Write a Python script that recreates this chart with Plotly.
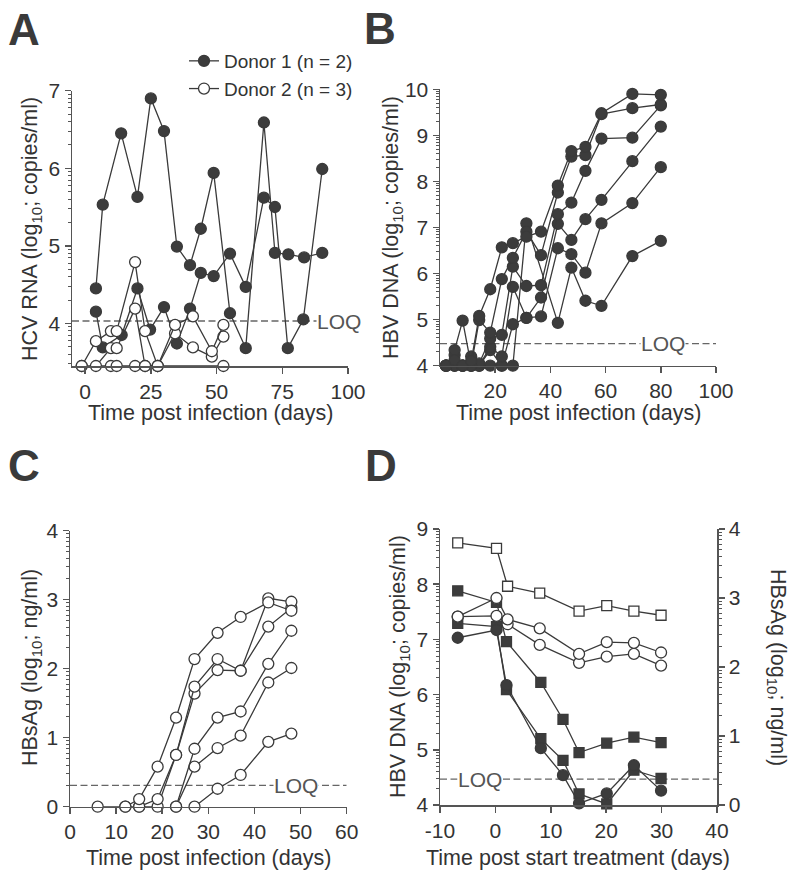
import numpy as np
import plotly.graph_objects as go

# ---------------- data ----------------
# Panel A: HCV RNA (log10 copies/ml) vs days post infection
a_d1_s1_day = [4.1, 6.7, 13.7, 19.9, 25.0, 30.0, 34.9, 39.9, 44.0, 48.9, 55.1, 61.1, 68.0, 72.2, 77.3, 83.3, 90.2]
a_d1_s1_val = [4.45, 5.53, 6.45, 5.63, 6.90, 6.48, 4.99, 4.75, 5.22, 5.94, 4.13, 3.68, 6.59, 4.91, 4.89, 4.85, 4.91]
a_d1_s2_day = [4.1, 6.7, 13.9, 19.9, 24.7, 30.0, 34.9, 39.9, 44.0, 48.9, 55.1, 61.1, 68.0, 72.2, 77.1, 83.0, 90.2]
a_d1_s2_val = [4.15, 3.69, 3.85, 4.45, 3.92, 4.21, 3.74, 4.19, 4.65, 4.61, 4.90, 4.47, 5.62, 5.50, 3.68, 4.05, 5.99]
a_d2_s1_day = [-1.3, 4.1, 9.8, 12.0, 19.0, 22.8, 27.6, 34.2, 41.0, 48.2, 52.6]
a_d2_s1_val = [3.45, 3.77, 3.90, 3.90, 4.79, 3.90, 3.45, 3.98, 4.09, 3.64, 3.98]
a_d2_s2_day = [4.1, 9.8, 12.0, 19.0, 22.8, 27.6, 34.2, 41.0, 48.2, 52.6]
a_d2_s2_val = [3.45, 3.68, 3.68, 4.19, 3.45, 3.45, 3.87, 3.69, 3.57, 3.83]
a_d2_s3_day = [-1.3, 9.8, 12.0, 19.0, 22.8, 27.6, 52.6]
a_d2_s3_val = [3.45, 3.45, 3.45, 3.45, 3.45, 3.45, 3.45]
a_loq = 4.03

# Panel B: HBV DNA (log10 copies/ml)
b_days = [2.2, 5.3, 8.2, 11.3, 14.2, 18.2, 22.4, 26.4, 31.3, 36.6, 42.7, 47.6, 52.7, 58.5, 69.7, 80.0]
b_s1 = [4.0, 4.12, 4.0, 4.10, 5.08, 5.66, 6.57, 6.66, 6.80, 6.91, 7.91, 8.66, 8.75, 9.48, 9.90, 9.88]
b_s2 = [4.0, 4.34, 4.98, 4.0, 4.99, 4.72, 5.88, 6.34, 6.91, 6.40, 7.76, 8.54, 8.57, 9.46, 9.59, 9.67]
b_s3 = [4.0, 4.23, 4.0, 4.20, 4.05, 4.59, 4.67, 6.15, 5.73, 5.75, 7.29, 7.54, 8.23, 8.93, 8.95, 9.65]
b_s4 = [4.0, 4.0, 4.0, 4.0, 4.0, 4.41, 4.20, 5.71, 5.04, 5.48, 7.08, 6.73, 7.18, 7.60, 8.44, 9.19]
b_s5 = [4.0, 4.0, 4.0, 4.0, 4.0, 4.34, 4.0, 4.90, 5.04, 5.07, 6.55, 6.42, 6.02, 7.09, 7.53, 8.31]
b_s6 = [4.0, 4.0, 4.0, 4.0, 4.0, 4.0, 4.0, 4.0, 7.09, None, 4.93, 6.13, 5.41, 5.30, 6.38, 6.71]
b_loq = 4.48

# Panel C: HBsAg (log10 ng/ml)
c_s1_day = [6, 12, 15, 19, 23, 27, 32, 37, 43, 48]
c_s1_val = [0, 0, 0.11, 0.58, 1.29, 2.14, 2.52, 2.75, 2.96, 2.84]
c_s2_day = [12, 15, 19, 23, 27, 32, 37, 43, 48]
c_s2_val = [0, 0, 0.11, 0.75, 1.74, 2.14, 1.97, 3.02, 2.97]
c_s3_day = [15, 19, 23, 27, 32, 37, 43, 48]
c_s3_val = [0, 0, 0.75, 1.64, 1.98, 1.97, 2.61, 2.88]
c_s4_day = [23, 27, 32, 37, 43, 48]
c_s4_val = [0, 0.84, 1.29, 1.38, 2.07, 2.55]
c_s5_day = [23, 27, 32, 37, 43, 48]
c_s5_val = [0, 0.58, 0.85, 1.03, 1.80, 2.01]
c_s6_day = [27, 32, 37, 43, 48]
c_s6_val = [0, 0.26, 0.46, 0.94, 1.06]
c_loq = 0.31

# Panel D: treatment; filled = HBV DNA (left axis), open = HBsAg (right axis)
d_dna_days = [-6.8, 0.2, 2.0, 8.2, 12.2, 15.1, 20.1, 25.0, 29.9]
d_dna_sq1 = [7.88, 7.67, 6.96, 6.22, 5.55, 4.95, 5.12, 5.23, 5.13]
d_dna_sq2 = [7.29, 7.23, 6.09, 5.20, 4.81, 4.20, 4.02, 4.63, 4.48]
d_dna_ci1 = [7.03, 7.17, 6.17, 5.03, 4.54, 4.03, 4.21, 4.72, 4.26]
d_ag_days = [-6.8, 0.2, 2.2, 8.0, 15.1, 20.1, 25.0, 29.9]
d_ag_sq = [3.80, 3.72, 3.17, 3.07, 2.81, 2.89, 2.81, 2.75]
d_ag_ci1 = [2.73, 3.00, 2.69, 2.56, 2.19, 2.36, 2.35, 2.21]
d_ag_ci2 = [2.73, 2.74, 2.62, 2.32, 2.06, 2.15, 2.19, 2.02]
d_loq = 4.47
d_xticks = [-10, 0, 10, 20, 30, 40]
d_xticklabels = ['-10', '0', '10', '20', '30', '40']

# ---------------- styling ----------------
W, H = 800, 880
LINE = '#3a3a3a'
FILL = '#3c3c3c'
TXT = '#333333'
AX = '#555555'
FONT = 'Liberation Sans, Arial, sans-serif'


def dom_x(a, b):
    return [a / W, b / W]


def dom_y(top, bottom):
    return [1 - bottom / H, 1 - top / H]


def log_minor(lo, hi):
    out = []
    for n in range(int(np.floor(lo)), int(np.ceil(hi)) + 1):
        for k in range(2, 10):
            v = n + np.log10(k)
            if lo <= v <= hi:
                out.append(v)
    return out


fig = go.Figure()


def add(x, y, xa, ya, filled, symbol='circle', name=None, showlegend=False, size=11):
    fig.add_trace(go.Scatter(
        x=x, y=y, xaxis=xa, yaxis=ya, mode='lines+markers',
        line=dict(color=LINE, width=1.3),
        marker=dict(symbol=symbol, size=size, color=FILL if filled else 'white',
                    line=dict(color=LINE, width=1.3)),
        cliponaxis=False, connectgaps=True, name=name, showlegend=showlegend))


# Panel A
add(a_d1_s1_day, a_d1_s1_val, 'x', 'y', True, name='Donor 1 (n = 2)', showlegend=True)
add(a_d1_s2_day, a_d1_s2_val, 'x', 'y', True)
add(a_d2_s3_day, a_d2_s3_val, 'x', 'y', False)
add(a_d2_s2_day, a_d2_s2_val, 'x', 'y', False)
add(a_d2_s1_day, a_d2_s1_val, 'x', 'y', False, name='Donor 2 (n = 3)', showlegend=True)

# Panel B
for s in [b_s6, b_s5, b_s4, b_s3, b_s2, b_s1]:
    add(b_days, s, 'x2', 'y2', True)

# Panel C
for dd, vv in [(c_s6_day, c_s6_val), (c_s5_day, c_s5_val), (c_s4_day, c_s4_val),
               (c_s3_day, c_s3_val), (c_s2_day, c_s2_val), (c_s1_day, c_s1_val)]:
    add(dd, vv, 'x3', 'y3', False)

# Panel D
add(d_ag_days, d_ag_sq, 'x4', 'y5', False, symbol='square', size=10)
add(d_ag_days, d_ag_ci2, 'x4', 'y5', False)
add(d_ag_days, d_ag_ci1, 'x4', 'y5', False)
add(d_dna_days, d_dna_sq1, 'x4', 'y4', True, symbol='square', size=10)
add(d_dna_days, d_dna_sq2, 'x4', 'y4', True, symbol='square', size=10)
add(d_dna_days, d_dna_ci1, 'x4', 'y4', True)

common = dict(showline=True, linecolor=AX, linewidth=1.5, ticks='outside', ticklen=6,
              tickwidth=1.5, tickcolor=AX, showgrid=False, zeroline=False, automargin=False,
              tickfont=dict(size=21, color=TXT, family=FONT), fixedrange=True)


def minor(vals):
    return dict(tickmode='array', tickvals=vals, ticks='outside', ticklen=3,
                tickwidth=1, tickcolor=AX, showgrid=False)


a_xr, a_yr = [-5, 100], [3.45, 7]
b_xr, b_yr = [0, 100], [4, 10]
c_xr, c_yr = [0, 60], [0, 4]
d_xr, d_yr, d_yr2 = [-10, 40], [4, 9], [0, 4]

fig.update_layout(
    template='none',
    width=W, height=H, margin=dict(l=0, r=0, t=0, b=0, pad=0, autoexpand=False),
    paper_bgcolor='white', plot_bgcolor='white',
    font=dict(family=FONT, color=TXT),
    xaxis=dict(common, domain=dom_x(72, 348), range=a_xr, anchor='y',
               tickvals=[0, 25, 50, 75, 100]),
    yaxis=dict(common, domain=dom_y(90.7, 366), range=a_yr, anchor='x',
               tickvals=[4, 5, 6, 7], minor=minor(log_minor(*a_yr))),
    xaxis2=dict(common, domain=dom_x(440, 716), range=b_xr, anchor='y2',
                tickvals=[20, 40, 60, 80, 100]),
    yaxis2=dict(common, domain=dom_y(89.3, 365.7), range=b_yr, anchor='x2',
                tickvals=[4, 5, 6, 7, 8, 9, 10], minor=minor(log_minor(*b_yr))),
    xaxis3=dict(common, domain=dom_x(70, 346.7), range=c_xr, anchor='y3',
                tickvals=[0, 10, 20, 30, 40, 50, 60]),
    yaxis3=dict(common, domain=dom_y(530.7, 806.7), range=c_yr, anchor='x3',
                tickvals=[0, 1, 2, 3, 4], minor=minor(log_minor(*c_yr))),
    xaxis4=dict(common, domain=dom_x(440, 717), range=d_xr, anchor='y4',
                tickvals=d_xticks, ticktext=d_xticklabels),
    yaxis4=dict(common, domain=dom_y(529, 805), range=d_yr, anchor='x4',
                tickvals=[4, 5, 6, 7, 8, 9], minor=minor(log_minor(*d_yr))),
    yaxis5=dict(common, range=d_yr2, anchor='x4', overlaying='y4', side='right',
                tickvals=[0, 1, 2, 3, 4], minor=minor(log_minor(*d_yr2))),
    legend=dict(x=184 / W, y=1 - 42 / H, xanchor='left', yanchor='top',
                font=dict(size=19, color=TXT, family=FONT), bgcolor='rgba(0,0,0,0)',
                borderwidth=0, itemwidth=30, tracegroupgap=0),
)

# LOQ lines
dash = '7px,3.5px'
for xr, ya, xa, v in [(a_xr, 'y', 'x', a_loq), (b_xr, 'y2', 'x2', b_loq),
                      (c_xr, 'y3', 'x3', c_loq), (d_xr, 'y4', 'x4', d_loq)]:
    fig.add_shape(type='line', xref=xa, yref=ya, x0=xr[0], x1=xr[1], y0=v, y1=v,
                  line=dict(color='#666666', width=1.3, dash=dash), layer='below')

loq_font = dict(size=21, color='#555555', family=FONT)
for xa, ya, xpos, v in [('x', 'y', 88, a_loq), ('x2', 'y2', 72.5, b_loq),
                        ('x3', 'y3', 44, c_loq), ('x4', 'y4', -6.9, d_loq)]:
    fig.add_annotation(text='LOQ', xref=xa, yref=ya, x=xpos, y=v, xanchor='left',
                       yanchor='middle', showarrow=False, bgcolor='white', font=loq_font,
                       borderpad=0)

# Axis titles
tfont = dict(size=21.5, color=TXT, family=FONT)


def title(text, x, y, angle=0):
    fig.add_annotation(text=text, xref='paper', yref='paper', x=x / W, y=1 - y / H,
                       xanchor='center', yanchor='middle', showarrow=False,
                       textangle=angle, font=tfont)


title('Time post infection (days)', 210, 413)
title('Time post infection (days)', 578, 413)
title('Time post infection (days)', 208, 858)
title('Time post start treatment (days)', 578, 858)
title('HCV RNA (log<sub>10</sub>; copies/ml)', 31, 229, -90)
title('HBV DNA (log<sub>10</sub>; copies/ml)', 393, 228, -90)
title('HBsAg (log<sub>10</sub>; ng/ml)', 31, 668, -90)
title('HBV DNA (log<sub>10</sub>; copies/ml)', 399, 667, -90)
title('HBsAg (log<sub>10</sub>; ng/ml)', 777, 667, 90)

# Panel letters
for lab, x, y in [('A', 24, 29), ('B', 380, 28), ('C', 24, 465), ('D', 381, 465)]:
    fig.add_annotation(text='<b>%s</b>' % lab, xref='paper', yref='paper', x=x / W,
                       y=1 - y / H, xanchor='center', yanchor='middle', showarrow=False,
                       font=dict(size=44, color='#3a3a3a', family=FONT))

fig.write_html('out.html', config={'displayModeBar': False, 'staticPlot': True},
               post_script="document.body.style.margin='0';document.body.style.overflow='hidden';")
